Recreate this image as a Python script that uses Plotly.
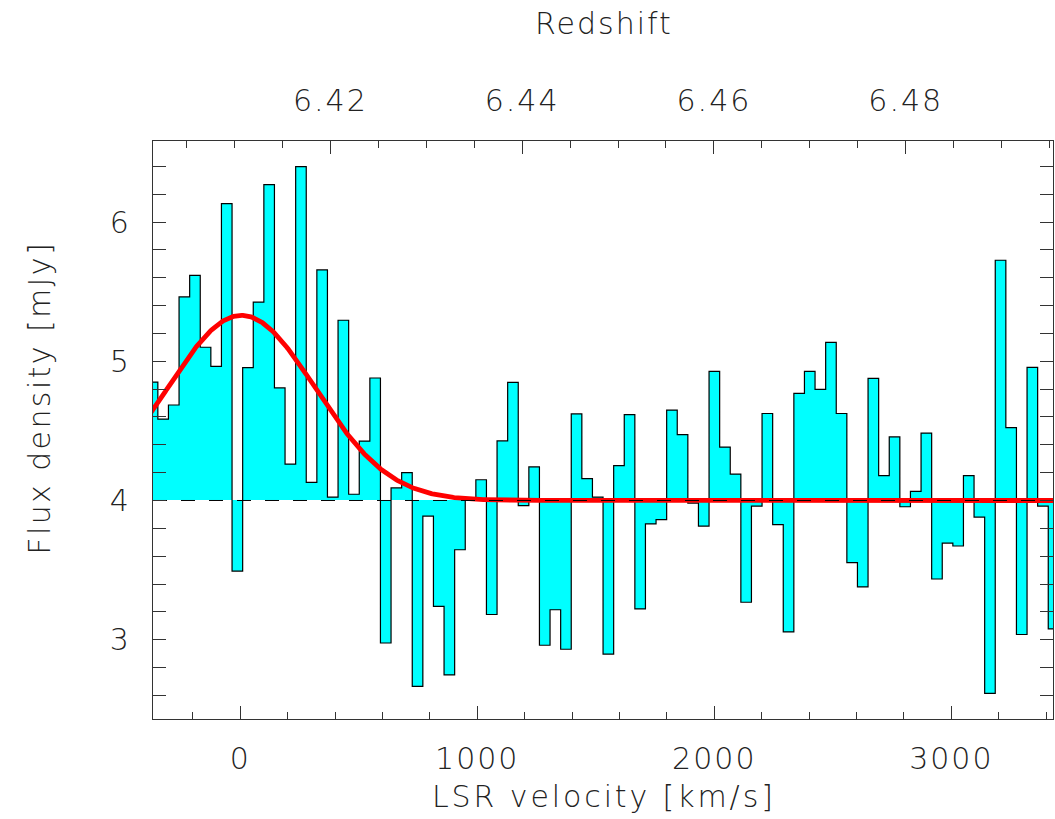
import numpy as np
import plotly.graph_objects as go

# Spectrum: channel velocities (km/s, LSR) and flux densities (mJy)
velocity = [
    -369.9, -325.2, -280.5, -235.7, -191.0, -146.3, -101.6, -56.9, -12.1, 32.6,
    77.3, 122.0, 166.7, 211.5, 256.2, 300.9, 345.6, 390.3, 435.1, 479.8,
    524.5, 569.2, 613.9, 658.7, 703.4, 748.1, 792.8, 837.5, 882.3, 927.0,
    971.7, 1016.4, 1061.1, 1105.9, 1150.6, 1195.3, 1240.0, 1284.7, 1329.5, 1374.2,
    1418.9, 1463.6, 1508.3, 1553.1, 1597.8, 1642.5, 1687.2, 1731.9, 1776.7, 1821.4,
    1866.1, 1910.8, 1955.5, 2000.3, 2045.0, 2089.7, 2134.4, 2179.1, 2223.9, 2268.6,
    2313.3, 2358.0, 2402.7, 2447.5, 2492.2, 2536.9, 2581.6, 2626.3, 2671.1, 2715.8,
    2760.5, 2805.2, 2849.9, 2894.7, 2939.4, 2984.1, 3028.8, 3073.5, 3118.3, 3163.0,
    3207.7, 3252.4, 3297.1, 3341.9, 3386.6, 3431.3,
]
flux = [
    4.85, 4.585, 4.686, 5.463, 5.617, 5.101, 4.963, 6.133, 3.492, 4.955,
    5.426, 6.269, 4.809, 4.261, 6.399, 4.130, 5.657, 4.024, 5.295, 4.045,
    4.426, 4.880, 2.976, 4.090, 4.200, 2.665, 3.888, 3.239, 2.747, 3.646,
    4.000, 4.149, 3.181, 4.428, 4.848, 3.963, 4.242, 2.960, 3.215, 2.931,
    4.622, 4.157, 4.024, 2.896, 4.250, 4.617, 3.221, 3.832, 3.862, 4.649,
    4.473, 3.981, 3.816, 4.928, 4.383, 4.189, 3.269, 3.960, 4.625, 3.827,
    3.056, 4.769, 4.928, 4.798, 5.136, 4.625, 3.553, 3.380, 4.878, 4.178,
    4.457, 3.955, 4.066, 4.484, 3.436, 3.694, 3.673, 4.178, 3.880, 2.614,
    5.726, 4.524, 3.037, 4.957, 3.960, 3.077,
]
channel_width = 44.72

# Tick positions
velocity_ticks = [0, 1000, 2000, 3000]
redshift_ticks = [6.42, 6.44, 6.46, 6.48]
flux_ticks = [3, 4, 5, 6]

# Continuum level and Gaussian line fit
continuum = 4.0
fit_amplitude = 1.33
fit_center = 5.0
fit_sigma = 312.0

# Redshift of the velocity zero point
z_ref = 6.4106
c_kms = 299792.458

v_range = [-368.0, 3429.0]
y_range = [2.43, 6.583]
z_range = [z_ref + (1 + z_ref) * v / c_kms for v in v_range]

flux_arr = np.array(flux)
v_model = np.linspace(v_range[0] - 50, v_range[1] + 50, 800)
f_model = continuum + fit_amplitude * np.exp(-0.5 * ((v_model - fit_center) / fit_sigma) ** 2)

FONT = "DejaVu Sans"
TXT = "#222222"
FRAME = "#333333"


def spaced(s, px=2):
    return f'<span style="letter-spacing:{px}px">{s}</span>'


fig = go.Figure()

# Filled channels relative to the continuum
fig.add_trace(go.Bar(
    x=velocity, y=flux_arr - continuum, base=continuum, width=channel_width,
    marker=dict(color="#00FFFF", line=dict(width=0)),
    hoverinfo="skip", showlegend=False,
))

# Histogram outline
fig.add_trace(go.Scatter(
    x=velocity, y=flux, mode="lines", line=dict(color="black", width=1.2, shape="hvh"),
    hoverinfo="skip", showlegend=False,
))

# Gaussian fit
fig.add_trace(go.Scatter(
    x=v_model, y=f_model, mode="lines", line=dict(color="#FF0000", width=4.8),
    hoverinfo="skip", showlegend=False,
))

# Continuum level
fig.add_trace(go.Scatter(
    x=[v_range[0], v_range[1]], y=[continuum, continuum], mode="lines",
    line=dict(color="black", width=1, dash="14px,14px"),
    hoverinfo="skip", showlegend=False,
))

# Carrier for the redshift axis
fig.add_trace(go.Scatter(
    x=z_range, y=[continuum, continuum], xaxis="x2", mode="lines",
    line=dict(width=0, color="rgba(0,0,0,0)"), hoverinfo="skip", showlegend=False,
))

font = dict(family=FONT, size=30, color=TXT, weight=200)

fig.update_layout(
    width=1055, height=819,
    margin=dict(l=153, r=2, t=141, b=100),
    paper_bgcolor="white", plot_bgcolor="white",
    bargap=0,
    xaxis=dict(
        range=v_range, showgrid=False, zeroline=False,
        showline=True, linecolor=FRAME, linewidth=1.3, mirror=True,
        ticks="inside", ticklen=13, tickwidth=1.2, tickcolor=FRAME,
        tickmode="array", tickvals=velocity_ticks,
        ticktext=[spaced(v) for v in velocity_ticks],
        tickfont=font, ticklabelstandoff=13,
        minor=dict(ticks="inside", ticklen=7, tickwidth=1.2, tickcolor=FRAME, dtick=200, tick0=0),
    ),
    xaxis2=dict(
        range=z_range, overlaying="x", side="top", anchor="y",
        showgrid=False, zeroline=False, showline=False,
        ticks="inside", ticklen=13, tickwidth=1.2, tickcolor=FRAME,
        tickmode="array", tickvals=redshift_ticks,
        ticktext=[spaced(f"{z:.2f}") for z in redshift_ticks],
        tickfont=font, ticklabelstandoff=23,
        minor=dict(ticks="inside", ticklen=7, tickwidth=1.2, tickcolor=FRAME, dtick=0.005, tick0=6.42),
    ),
    yaxis=dict(
        range=y_range, showgrid=False, zeroline=False,
        showline=True, linecolor=FRAME, linewidth=1.3, mirror="allticks",
        ticks="inside", ticklen=13, tickwidth=1.2, tickcolor=FRAME,
        tickmode="array", tickvals=flux_ticks, ticktext=[str(f) for f in flux_ticks],
        tickfont=font, ticklabelstandoff=17,
        minor=dict(ticks="inside", ticklen=7, tickwidth=1.2, tickcolor=FRAME, dtick=0.2, tick0=0),
    ),
    annotations=[
        dict(text=spaced("Redshift"), xref="paper", yref="paper", x=0.5008, y=1.2034,
             showarrow=False, xanchor="center", yanchor="middle", font=font),
        dict(text=spaced("LSR velocity [km/s]", 2.9), xref="paper", yref="paper", x=0.5008, y=-0.1343,
             showarrow=False, xanchor="center", yanchor="middle", font=font),
        dict(text=spaced("Flux density [mJy]", 2.4), xref="paper", yref="paper", x=-0.127, y=0.5553,
             showarrow=False, xanchor="center", yanchor="middle", textangle=-90, font=font),
    ],
)

fig.write_html("out.html")
